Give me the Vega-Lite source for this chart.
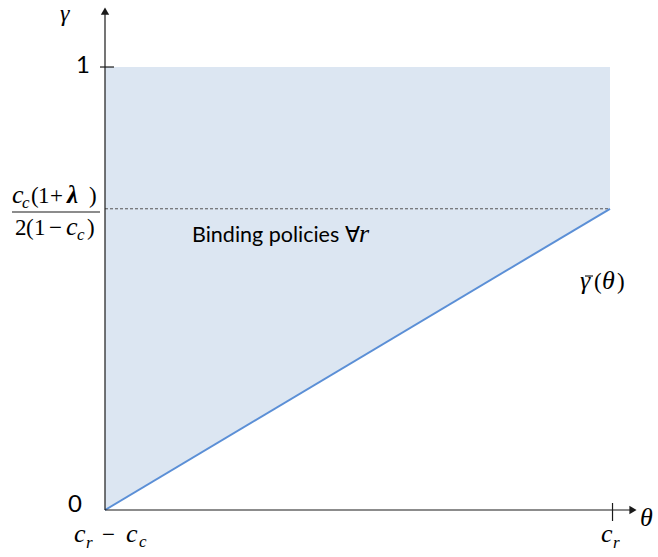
{
  "$schema": "https://vega.github.io/schema/vega-lite/v6.json",
  "autosize": {"type": "none"},
  "width": 531,
  "height": 500,
  "padding": {"left": 105, "top": 10, "right": 22, "bottom": 47},
  "background": "white",
  "config": {"view": {"stroke": null}},
  "datasets": {
    "region": [
      {"theta": 0, "gammaBar": 0, "top": 1},
      {"theta": 1, "gammaBar": 0.68, "top": 1}
    ],
    "threshold": [
      {"theta0": 0, "theta1": 1, "gamma": 0.68}
    ],
    "segments": [
      {"kind": "axis", "x": 0, "x2": 0, "y": 0, "y2": 1.1196},
      {"kind": "axis", "x": 0, "x2": 1.0396, "y": 0, "y2": 0},
      {"kind": "tick", "x": -0.0099, "x2": 0.0178, "y": 1, "y2": 1},
      {"kind": "tick", "x": 1.005, "x2": 1.005, "y": 0.0158, "y2": -0.0248},
      {"kind": "fraction", "x": -0.1842, "x2": -0.0099, "y": 0.6727, "y2": 0.6727},
      {"kind": "macron", "x": 0.9505, "x2": 0.9664, "y": 0.5282, "y2": 0.5282}
    ],
    "arrows": [
      {"axis": "gamma", "x": 0, "y": 1.1264},
      {"axis": "theta", "x": 1.0455, "y": 0}
    ],
    "labels": [
      {"kind": "axisname", "text": "γ", "x": -0.0891, "y": 1.1038},
      {"kind": "digit", "text": "1", "x": -0.0574, "y": 0.9865},
      {"kind": "digit", "text": "0", "x": -0.0733, "y": -0.0045},
      {"kind": "italic", "text": "c", "x": -0.0614, "y": -0.0722},
      {"kind": "sub", "text": "r", "x": -0.0376, "y": -0.0858},
      {"kind": "upright", "text": "−", "x": -0.0059, "y": -0.0722},
      {"kind": "italic", "text": "c", "x": 0.0416, "y": -0.0722},
      {"kind": "sub", "text": "c", "x": 0.0673, "y": -0.0835},
      {"kind": "italic", "text": "c", "x": 0.9822, "y": -0.0722},
      {"kind": "sub", "text": "r", "x": 1.0059, "y": -0.0858},
      {"kind": "italic", "text": "θ", "x": 1.0594, "y": -0.0361},
      {"kind": "italic", "text": "c", "x": -0.1842, "y": 0.693},
      {"kind": "sub", "text": "c", "x": -0.1644, "y": 0.6817},
      {"kind": "upright", "text": "(", "x": -0.1465, "y": 0.693},
      {"kind": "upright", "text": "1", "x": -0.1327, "y": 0.693},
      {"kind": "upright", "text": "+", "x": -0.1089, "y": 0.693},
      {"kind": "bold", "text": "λ", "x": -0.0752, "y": 0.693},
      {"kind": "upright", "text": ")", "x": -0.0317, "y": 0.693},
      {"kind": "upright", "text": "2", "x": -0.1782, "y": 0.6208},
      {"kind": "upright", "text": "(", "x": -0.1564, "y": 0.6208},
      {"kind": "upright", "text": "1", "x": -0.1406, "y": 0.6208},
      {"kind": "upright", "text": "−", "x": -0.1109, "y": 0.6208},
      {"kind": "italic", "text": "c", "x": -0.0772, "y": 0.6208},
      {"kind": "sub", "text": "c", "x": -0.0554, "y": 0.6095},
      {"kind": "upright", "text": ")", "x": -0.0356, "y": 0.6208},
      {"kind": "italic", "text": "γ", "x": 0.9406, "y": 0.4989},
      {"kind": "upright", "text": "(", "x": 0.9683, "y": 0.4989},
      {"kind": "italic", "text": "θ", "x": 0.9842, "y": 0.4989},
      {"kind": "upright", "text": ")", "x": 1.0139, "y": 0.4989},
      {"kind": "plain", "text": "Binding policies ∀", "x": 0.1723, "y": 0.605},
      {"kind": "italic", "text": "r", "x": 0.503, "y": 0.605}
    ]
  },
  "encoding": {
    "x": {"type": "quantitative", "scale": {"domain": [0, 1.0515], "nice": false, "zero": false}, "axis": null},
    "y": {"type": "quantitative", "scale": {"domain": [0, 1.1287], "nice": false, "zero": false}, "axis": null}
  },
  "layer": [
    {
      "data": {"name": "region"},
      "mark": {"type": "area", "color": "#dce6f2", "opacity": 1},
      "encoding": {
        "x": {"field": "theta", "type": "quantitative"},
        "y": {"field": "gammaBar", "type": "quantitative"},
        "y2": {"field": "top"}
      }
    },
    {
      "data": {"name": "threshold"},
      "mark": {"type": "rule", "color": "#555555", "strokeWidth": 1, "strokeDash": [3, 2]},
      "encoding": {
        "x": {"field": "theta0", "type": "quantitative"},
        "x2": {"field": "theta1"},
        "y": {"field": "gamma", "type": "quantitative"}
      }
    },
    {
      "data": {"name": "region"},
      "mark": {"type": "line", "color": "#5b8fd6", "strokeWidth": 2},
      "encoding": {
        "x": {"field": "theta", "type": "quantitative"},
        "y": {"field": "gammaBar", "type": "quantitative"}
      }
    },
    {
      "data": {"name": "segments"},
      "mark": {"type": "rule", "color": "#1a1a1a", "strokeWidth": 1.2},
      "encoding": {
        "x": {"field": "x", "type": "quantitative"},
        "x2": {"field": "x2"},
        "y": {"field": "y", "type": "quantitative"},
        "y2": {"field": "y2"}
      }
    },
    {
      "data": {"name": "arrows"},
      "transform": [{"filter": "datum.axis === 'gamma'"}],
      "mark": {"type": "point", "shape": "triangle-up", "filled": true, "color": "#1a1a1a", "size": 70, "opacity": 1},
      "encoding": {
        "x": {"field": "x", "type": "quantitative"},
        "y": {"field": "y", "type": "quantitative"}
      }
    },
    {
      "data": {"name": "arrows"},
      "transform": [{"filter": "datum.axis === 'theta'"}],
      "mark": {"type": "point", "shape": "triangle-right", "filled": true, "color": "#1a1a1a", "size": 70, "opacity": 1},
      "encoding": {
        "x": {"field": "x", "type": "quantitative"},
        "y": {"field": "y", "type": "quantitative"}
      }
    },
    {
      "data": {"name": "labels"},
      "transform": [{"filter": "datum.kind === 'plain'"}],
      "mark": {"type": "text", "align": "left", "baseline": "alphabetic", "font": "Lato", "fontSize": 21.5, "color": "#000"},
      "encoding": {
        "x": {"field": "x", "type": "quantitative"},
        "y": {"field": "y", "type": "quantitative"},
        "text": {"field": "text"}
      }
    },
    {
      "data": {"name": "labels"},
      "transform": [{"filter": "datum.kind === 'digit'"}],
      "mark": {"type": "text", "align": "left", "baseline": "alphabetic", "font": "Lato", "fontSize": 24, "color": "#000"},
      "encoding": {
        "x": {"field": "x", "type": "quantitative"},
        "y": {"field": "y", "type": "quantitative"},
        "text": {"field": "text"}
      }
    },
    {
      "data": {"name": "labels"},
      "transform": [{"filter": "datum.kind === 'axisname'"}],
      "mark": {"type": "text", "align": "left", "baseline": "alphabetic", "font": "Liberation Serif", "fontStyle": "italic", "fontSize": 24, "color": "#000"},
      "encoding": {
        "x": {"field": "x", "type": "quantitative"},
        "y": {"field": "y", "type": "quantitative"},
        "text": {"field": "text"}
      }
    },
    {
      "data": {"name": "labels"},
      "transform": [{"filter": "datum.kind === 'italic'"}],
      "mark": {"type": "text", "align": "left", "baseline": "alphabetic", "font": "Liberation Serif", "fontStyle": "italic", "fontSize": 26, "color": "#000"},
      "encoding": {
        "x": {"field": "x", "type": "quantitative"},
        "y": {"field": "y", "type": "quantitative"},
        "text": {"field": "text"}
      }
    },
    {
      "data": {"name": "labels"},
      "transform": [{"filter": "datum.kind === 'upright'"}],
      "mark": {"type": "text", "align": "left", "baseline": "alphabetic", "font": "Liberation Serif", "fontSize": 23, "color": "#000"},
      "encoding": {
        "x": {"field": "x", "type": "quantitative"},
        "y": {"field": "y", "type": "quantitative"},
        "text": {"field": "text"}
      }
    },
    {
      "data": {"name": "labels"},
      "transform": [{"filter": "datum.kind === 'bold'"}],
      "mark": {"type": "text", "align": "left", "baseline": "alphabetic", "font": "Liberation Serif", "fontStyle": "italic", "fontWeight": "bold", "fontSize": 25, "color": "#000"},
      "encoding": {
        "x": {"field": "x", "type": "quantitative"},
        "y": {"field": "y", "type": "quantitative"},
        "text": {"field": "text"}
      }
    },
    {
      "data": {"name": "labels"},
      "transform": [{"filter": "datum.kind === 'sub'"}],
      "mark": {"type": "text", "align": "left", "baseline": "alphabetic", "font": "Liberation Serif", "fontStyle": "italic", "fontSize": 17, "color": "#000"},
      "encoding": {
        "x": {"field": "x", "type": "quantitative"},
        "y": {"field": "y", "type": "quantitative"},
        "text": {"field": "text"}
      }
    }
  ]
}
